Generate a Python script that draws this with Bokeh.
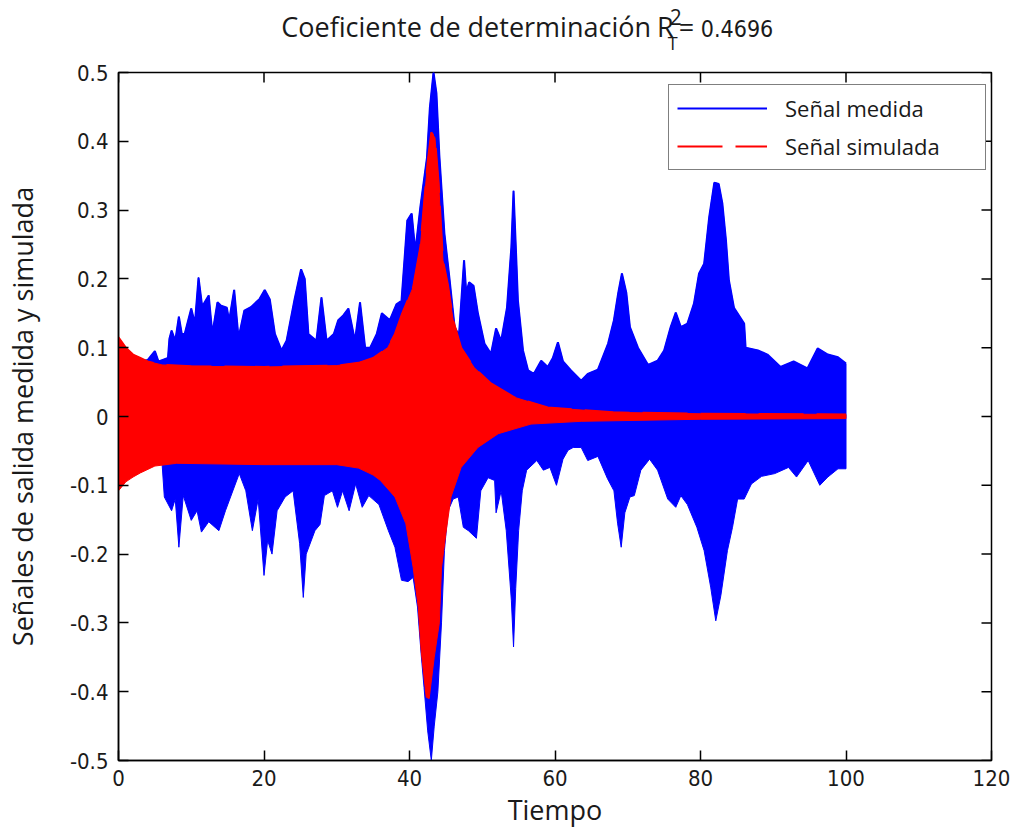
import math
from bokeh.plotting import figure
from bokeh.layouts import column
from bokeh.models import Range1d, FixedTicker, Label, Legend, LegendItem
from bokeh.embed import file_html
from bokeh.resources import INLINE

# ---- data (envelopes) ----
blue_upper = [(0, 0.075), (1, 0.078), (2, 0.076), (3, 0.08), (4, 0.082), (5, 0.095), (5.5, 0.08),
              (6, 0.082), (6.8, 0.085), (7.0, 0.113), (7.3, 0.125), (7.8, 0.11), (8.3, 0.145),
              (8.7, 0.12), (9.1, 0.12), (10, 0.157), (10.5, 0.135), (11, 0.202), (11.5, 0.16),
              (12.4, 0.176), (12.9, 0.12), (13.6, 0.166), (14.1, 0.161), (14.9, 0.158), (15.2, 0.139),
              (15.9, 0.184), (16.5, 0.114), (17.3, 0.154), (18.2, 0.159), (19.4, 0.171), (20.1, 0.184),
              (20.8, 0.17), (21.5, 0.12), (22.4, 0.096), (23.1, 0.11), (24.2, 0.17), (25.1, 0.214),
              (25.6, 0.2), (26.1, 0.12), (27.2, 0.11), (27.9, 0.173), (28.6, 0.11), (29.6, 0.12),
              (30.2, 0.14), (30.9, 0.147), (31.6, 0.157), (32.5, 0.11), (33.2, 0.166), (33.9, 0.1),
              (34.6, 0.1), (35.5, 0.12), (36.2, 0.15), (37.3, 0.14), (38.2, 0.163), (38.9, 0.168),
              (39.4, 0.241), (39.7, 0.285), (40.3, 0.295), (40.8, 0.24), (41.5, 0.305), (42.4, 0.376),
              (42.8, 0.449), (43.3, 0.5), (43.7, 0.47), (44.1, 0.38), (44.8, 0.266), (45.5, 0.2),
              (46.2, 0.13), (46.8, 0.118), (47.5, 0.227), (47.8, 0.18), (48.2, 0.195), (48.8, 0.19),
              (49.4, 0.15), (50.3, 0.106), (51.2, 0.091), (51.9, 0.128), (52.6, 0.11), (53.4, 0.158),
              (54.0, 0.246), (54.3, 0.328), (54.6, 0.25), (54.9, 0.169), (55.6, 0.096), (56.3, 0.067),
              (57.1, 0.062), (58.1, 0.081), (59.0, 0.072), (59.7, 0.085), (60.4, 0.108), (61.1, 0.08),
              (62.2, 0.067), (63.6, 0.052), (64.5, 0.062), (65.9, 0.068), (67.3, 0.106), (68.1, 0.14),
              (68.7, 0.18), (69.2, 0.208), (69.8, 0.18), (70.3, 0.13), (71.4, 0.1), (72.8, 0.075),
              (74.1, 0.081), (75.0, 0.096), (75.9, 0.13), (76.6, 0.151), (77.3, 0.13), (78.2, 0.135),
              (79.1, 0.164), (79.8, 0.208), (80.5, 0.222), (81.2, 0.29), (81.9, 0.34), (82.5, 0.338),
              (83.0, 0.31), (83.5, 0.256), (83.9, 0.198), (84.6, 0.158), (86.0, 0.135), (86.2, 0.1),
              (87.9, 0.096), (89.2, 0.09), (91.0, 0.072), (92.8, 0.08), (94.7, 0.07), (96.1, 0.099),
              (97.5, 0.09), (98.9, 0.086), (100, 0.077)]

blue_lower = [(0, -0.072), (2, -0.07), (4, -0.068), (6, -0.07), (6.3, -0.117), (7.3, -0.137),
              (7.8, -0.12), (8.3, -0.19), (8.9, -0.115), (10, -0.151), (10.8, -0.137), (11.4, -0.168),
              (12.4, -0.153), (13.8, -0.166), (14.7, -0.137), (15.4, -0.117), (16.6, -0.083),
              (17.5, -0.108), (18.4, -0.166), (19.2, -0.12), (20, -0.231), (20.5, -0.18), (21.1, -0.2),
              (21.8, -0.137), (22.9, -0.117), (24, -0.108), (24.9, -0.185), (25.4, -0.263), (25.8, -0.2),
              (27, -0.166), (27.7, -0.157), (28.3, -0.115), (29.4, -0.108), (30.1, -0.132),
              (30.8, -0.108), (31.7, -0.137), (32.6, -0.098), (33.5, -0.132), (34.4, -0.115),
              (35.8, -0.128), (37.1, -0.166), (38, -0.19), (38.9, -0.238), (39.8, -0.24),
              (40.5, -0.234), (41.1, -0.277), (41.6, -0.345), (42, -0.394), (42.5, -0.457),
              (43.0, -0.5), (43.4, -0.45), (43.9, -0.4), (44.4, -0.3), (44.8, -0.195), (45.3, -0.137),
              (46, -0.12), (46.7, -0.117), (47.4, -0.161), (48.1, -0.166), (49.2, -0.177),
              (49.8, -0.108), (50.8, -0.089), (51.7, -0.093), (51.9, -0.14), (52.6, -0.108),
              (53.3, -0.166), (54, -0.267), (54.3, -0.335), (54.6, -0.25), (55, -0.166), (55.5, -0.108),
              (56.1, -0.078), (57.5, -0.064), (58.4, -0.078), (59.3, -0.074), (60.2, -0.1),
              (61.1, -0.062), (61.8, -0.049), (62.5, -0.045), (63.6, -0.045), (64.5, -0.064),
              (65.9, -0.058), (67.2, -0.09), (68.1, -0.108), (68.6, -0.155), (69.1, -0.19),
              (69.6, -0.14), (70.3, -0.117), (70.9, -0.115), (71.8, -0.078), (73, -0.062),
              (74.1, -0.078), (75.5, -0.12), (76.6, -0.132), (77.3, -0.115), (78.2, -0.128),
              (79.5, -0.161), (80.5, -0.195), (81.4, -0.248), (82.1, -0.297), (82.8, -0.26),
              (83.7, -0.195), (84.4, -0.161), (85.1, -0.12), (86, -0.12), (87, -0.098), (88.4, -0.087),
              (90.2, -0.083), (92.1, -0.074), (93.2, -0.088), (94.8, -0.064), (96.4, -0.1),
              (97.5, -0.088), (98.9, -0.076), (100, -0.076)]

red_upper = [(0, 0.115), (1, 0.1), (2, 0.09), (3, 0.085), (4, 0.08), (6, 0.075), (10, 0.073),
             (20, 0.072), (30, 0.074), (33, 0.078), (35, 0.085), (37, 0.1), (38, 0.12), (39, 0.15),
             (40.5, 0.188), (41.5, 0.247), (42, 0.31), (42.5, 0.37), (43, 0.413), (43.5, 0.405),
             (44, 0.34), (44.6, 0.227), (45.3, 0.19), (46, 0.14), (47.1, 0.1), (48.9, 0.071),
             (51.2, 0.048), (54.4, 0.028), (59, 0.013), (68, 0.006), (80, 0.004), (100, 0.003)]

red_lower = [(0, -0.108), (1, -0.095), (2, -0.088), (3, -0.082), (5, -0.072), (8, -0.068),
             (20, -0.07), (30, -0.07), (33, -0.075), (35, -0.085), (36, -0.093), (38, -0.117),
             (39.5, -0.156), (40.5, -0.219), (41.2, -0.277), (41.6, -0.34), (42.3, -0.408),
             (42.7, -0.41), (43.4, -0.35), (44.1, -0.3), (44.4, -0.22), (45, -0.17), (45.7, -0.117),
             (47.1, -0.074), (49.4, -0.045), (52.2, -0.025), (56.7, -0.011), (63.6, -0.007),
             (80, -0.004), (100, -0.003)]

x_ticks = [0, 20, 40, 60, 80, 100, 120]
y_ticks = [-0.5, -0.4, -0.3, -0.2, -0.1, 0, 0.1, 0.2, 0.3, 0.4, 0.5]
y_tick_labels = ["-0.5", "-0.4", "-0.3", "-0.2", "-0.1", "0", "0.1", "0.2", "0.3", "0.4", "0.5"]
series_names = ["Señal medida", "Señal simulada"]
title_main = "Coeficiente de determinación"
r2_value = "0.4696"

BLUE = "#0000ff"
RED = "#ff0000"
TXT = "#1a1a1a"
NARROW = "DejaVu Sans Condensed"
SANS = "Open Sans"
X0, X1, Y0, Y1 = 0, 120, -0.5, 0.5

W = 1015
FRAME_L, FRAME_R = 117, 991

# ---------------- title strip (its ranges map 1:1 to page pixels) ----------------
TH = 60
t = figure(width=W, height=TH, output_backend="svg", toolbar_location=None, title=None,
           x_range=Range1d(FRAME_L, FRAME_R), y_range=Range1d(0, TH),
           x_axis_type=None, y_axis_type=None,
           min_border_left=FRAME_L, min_border_right=W - FRAME_R, min_border_top=0,
           min_border_bottom=0, outline_line_color=None, border_fill_color="white")
t.xgrid.visible = False
t.ygrid.visible = False
base = dict(text_color=TXT, text_baseline="alphabetic")
t.add_layout(Label(x=280, y=34, text=title_main, text_font=SANS, text_font_size="27px", **base))
t.add_layout(Label(x=656, y=34, text="R", text_font=SANS, text_font_size="27px", **base))
t.add_layout(Label(x=669, y=43.5, text="2", text_font=SANS, text_font_size="21px", **base))
t.add_layout(Label(x=667, y=18, text="T", text_font=SANS, text_font_size="18px", **base))
t.add_layout(Label(x=678, y=34, text="=", text_font=SANS, text_font_size="27px", **base))
t.add_layout(Label(x=700, y=32, text=r2_value, text_font=NARROW, text_font_size="23px", **base))

# ---------------- main plot ----------------
p = figure(width=W, height=771, output_backend="svg", toolbar_location=None, title=None,
           x_range=Range1d(X0, X1), y_range=Range1d(Y0, Y1),
           min_border_left=FRAME_L, min_border_right=W - FRAME_R, min_border_top=12,
           min_border_bottom=71, background_fill_color="white", border_fill_color="white")
p.xgrid.visible = False
p.ygrid.visible = False
p.outline_line_color = "black"
p.outline_line_width = 1.5


def band(upper, lower):
    xs = [a for a, _ in upper] + [a for a, _ in reversed(lower)]
    ys = [v for _, v in upper] + [v for _, v in reversed(lower)]
    return xs, ys


bx, by = band(blue_upper, blue_lower)
rx, ry = band(red_upper, red_lower)
p.patch(bx, by, fill_color=BLUE, line_color=BLUE, line_width=1)
lb = p.line([a for a, _ in blue_upper], [v for _, v in blue_upper], line_color=BLUE, line_width=2)
p.patch(rx, ry, fill_color=RED, line_color=RED, line_width=1)
lr = p.line([a for a, _ in red_upper], [v for _, v in red_upper], line_color=RED, line_width=2,
            line_dash="45 13")

legend = Legend(items=[LegendItem(label=series_names[0], renderers=[lb]),
                       LegendItem(label=series_names[1], renderers=[lr])],
                location=(550, 590), padding=8, spacing=8, glyph_width=90, glyph_height=26,
                label_height=26, label_width=192, label_standoff=18, margin=0,
                label_text_font=SANS, label_text_font_size="22px", label_text_color=TXT,
                border_line_color="black", border_line_width=1.5, background_fill_alpha=1.0)
p.add_layout(legend)

# inward ticks on the top and right edges (marker centred on the frame edge, clipped to frame)
p.scatter(x_ticks, [Y1] * len(x_ticks), marker="dash", size=20, angle=math.pi / 2,
          line_color="black", line_width=1.5)
p.scatter([X1] * len(y_ticks), y_ticks, marker="dash", size=20,
          line_color="black", line_width=1.5)

xa = p.xaxis[0]
ya = p.yaxis[0]
xa.ticker = FixedTicker(ticks=x_ticks)
ya.ticker = FixedTicker(ticks=y_ticks)
ya.major_label_overrides = {tk: s for tk, s in zip(y_ticks, y_tick_labels)}
for ax in (xa, ya):
    ax.major_tick_in = 10
    ax.major_tick_out = 0
    ax.minor_tick_in = 0
    ax.minor_tick_out = 0
    ax.axis_line_color = "black"
    ax.axis_line_width = 1.5
    ax.major_tick_line_width = 1.5
    ax.major_label_text_font = NARROW
    ax.major_label_text_font_size = "22px"
    ax.major_label_text_color = TXT
    ax.axis_label_text_font = SANS
    ax.axis_label_text_font_size = "27px"
    ax.axis_label_text_font_style = "normal"
    ax.axis_label_text_color = TXT
xa.major_label_standoff = 9
ya.major_label_standoff = 10
xa.axis_label = "Tiempo"
ya.axis_label = "Señales de salida medida y simulada"
xa.axis_label_standoff = 2
ya.axis_label_standoff = 26

layout = column(t, p, spacing=0)
open("out.html", "w").write(file_html(layout, INLINE))
